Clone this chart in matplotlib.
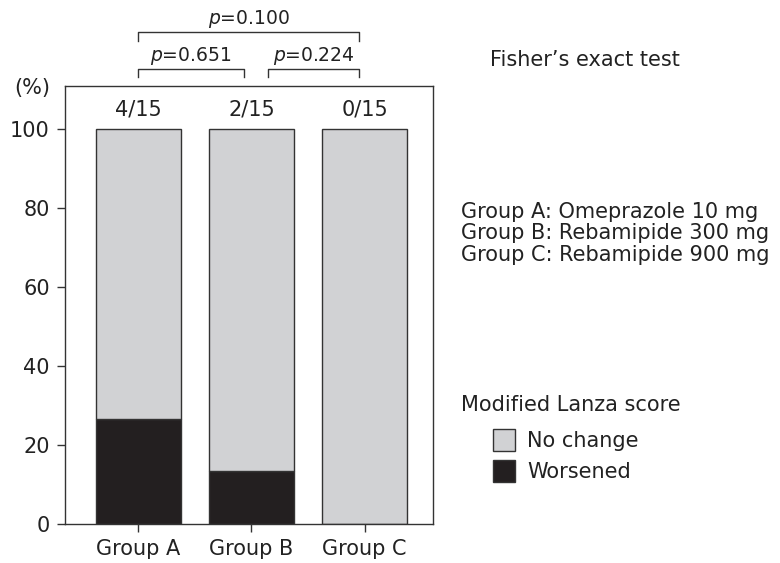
import numpy as np
import matplotlib.pyplot as plt

groups = ['Group A', 'Group B', 'Group C']
worsened_n = [4, 2, 0]
total_n = [15, 15, 15]
pairs = [(0, 1, '0.651'), (1, 2, '0.224'), (0, 2, '0.100')]
treatments = ['Group A: Omeprazole 10 mg',
              'Group B: Rebamipide 300 mg',
              'Group C: Rebamipide 900 mg']

worsened = np.array(worsened_n) / np.array(total_n) * 100
no_change = 100 - worsened

gray = '#d1d2d4'
black = '#231f20'
edge = '#333333'
fs = 15

plt.rcParams['font.family'] = 'DejaVu Sans'
plt.rcParams['text.color'] = '#222222'
plt.rcParams['xtick.color'] = edge
plt.rcParams['ytick.color'] = edge
plt.rcParams['xtick.labelcolor'] = '#222222'
plt.rcParams['ytick.labelcolor'] = '#222222'

fig = plt.figure(figsize=(7.8, 5.63), dpi=100)
ax = fig.add_axes([65/780, 1 - 524/563, (433-65)/780, (524-86)/563])

x = np.arange(len(groups))
b1 = ax.bar(x, worsened, width=0.75, color=black, edgecolor=edge, lw=1)
b2 = ax.bar(x, no_change, bottom=worsened, width=0.75, color=gray,
            edgecolor=edge, lw=1)

ax.set_xlim(-0.65, 2.606)
ax.set_ylim(0, 111)
ax.set_yticks([0, 20, 40, 60, 80, 100])
ax.set_xticks(x)
ax.set_xticklabels(groups)
ax.tick_params(labelsize=fs, length=6, width=1, pad=5)
for s in ax.spines.values():
    s.set_color(edge)
    s.set_linewidth(1)

for xi, w, t in zip(x, worsened_n, total_n):
    ax.text(xi, 105, f'{w}/{t}', ha='center', va='center', fontsize=fs)

ax.text(-0.78, 110.5, '(%)', ha='right', va='center', fontsize=fs)

# comparison brackets above the bars
def bracket(x0, x1, y, h, label):
    ax.plot([x0, x0, x1, x1], [y - h, y, y, y - h], color=edge, lw=1,
            clip_on=False)
    ax.text((x0 + x1) / 2, y + 3.2, f'$p$={label}', ha='center', va='center',
            fontsize=fs - 1.5)

bracket(0, 0.93, 115.3, 2.0, pairs[0][2])
bracket(1.15, 1.95, 115.3, 2.0, pairs[1][2])
bracket(0, 1.95, 124.7, 2.3, pairs[2][2])

fig.text(490/780, 1 - 60/563, 'Fisher\u2019s exact test', ha='left',
         va='center', fontsize=fs)
for i, t in enumerate(treatments):
    fig.text(461/780, 1 - (212 + 21.5*i)/563, t, ha='left', va='center',
             fontsize=fs)

fig.text(461/780, 1 - 405/563, 'Modified Lanza score', ha='left',
         va='center', fontsize=fs)
fig.legend([b2, b1], ['No change', 'Worsened'], loc='upper left',
           bbox_to_anchor=(474/780, 1 - 410/563), frameon=False,
           fontsize=fs, handlelength=1.05, handleheight=1.25,
           handletextpad=0.6, labelspacing=0.45)

fig.savefig('out.png', dpi=100)
